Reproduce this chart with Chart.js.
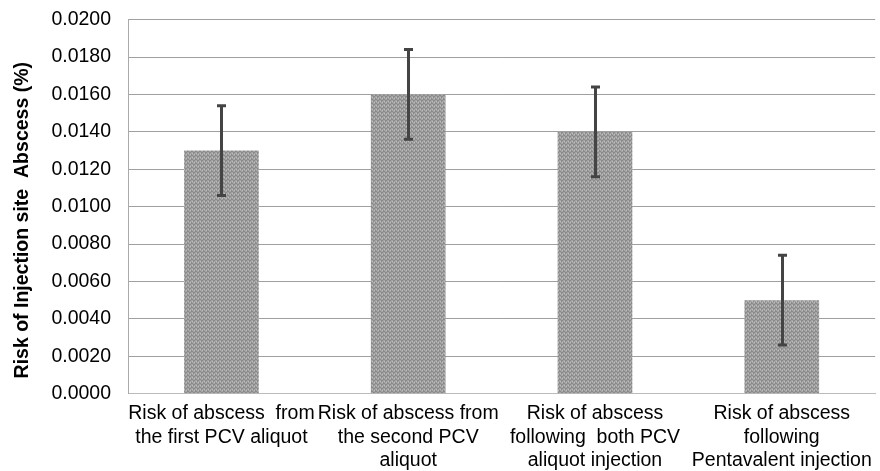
<!DOCTYPE html>
<html>
<head>
<meta charset="utf-8">
<script src="https://cdn.jsdelivr.net/npm/chart.js@4"></script>
<style>
html,body{margin:0;padding:0;background:#fff}
#wrap{width:880px;height:471px;position:relative;overflow:hidden}
#c{position:absolute;left:0;top:-9px}
</style>
</head>
<body>
<div id="wrap"><canvas id="c"></canvas></div>
<script>
'use strict';
// ── data ──
const categories=[
  ['Risk of abscess  from','the first PCV aliquot'],
  ['Risk of abscess from','the second PCV','aliquot'],
  ['Risk of abscess','following  both PCV','aliquot injection'],
  ['Risk of abscess','following','Pentavalent injection']
];
const riskValues=[0.0130,0.0160,0.0140,0.0050];
const errLow=[0.0106,0.0136,0.0116,0.0026];
const errHigh=[0.0154,0.0184,0.0164,0.0074];
const yTicks=[0,0.002,0.004,0.006,0.008,0.010,0.012,0.014,0.016,0.018,0.020];

// speckled grey fill like the original
function dotPattern(){
  const p=document.createElement('canvas');p.width=4;p.height=4;
  const g=p.getContext('2d');
  g.fillStyle='#a4a4a4';g.fillRect(0,0,4,4);
  g.fillStyle='#8a8a8a';
  [[0,0],[2,1],[1,2],[3,3],[3,0],[1,1]].forEach(([x,y])=>g.fillRect(x,y,1,1));
  g.fillStyle='#bcbcbc';
  [[2,3],[0,2]].forEach(([x,y])=>g.fillRect(x,y,1,1));
  return g.createPattern(p,'repeat');
}

const errorBars={
  id:'errorBars',
  afterDatasetsDraw(chart){
    const ctx=chart.ctx,y=chart.scales.y,meta=chart.getDatasetMeta(0);
    ctx.save();ctx.strokeStyle='#444';ctx.lineCap='butt';ctx.lineWidth=3;
    meta.data.forEach((bar,i)=>{
      const x=Math.round(bar.x)+0.5,yt=y.getPixelForValue(errHigh[i]),yb=y.getPixelForValue(errLow[i]);
      ctx.beginPath();ctx.moveTo(x,yt);ctx.lineTo(x,yb);ctx.stroke();
      ctx.beginPath();
      ctx.moveTo(x-4.5,yt);ctx.lineTo(x+4.5,yt);
      ctx.moveTo(x-4.5,yb);ctx.lineTo(x+4.5,yb);ctx.stroke();
    });
    ctx.restore();
  }
};

Chart.defaults.font.family="'Liberation Sans', Arial, sans-serif";
Chart.defaults.color='#000';
const cv=document.getElementById('c');
cv.width=880;cv.height=480;
new Chart(cv,{
  type:'bar',
  data:{labels:categories,datasets:[{data:riskValues,backgroundColor:dotPattern(),borderWidth:0,barPercentage:0.4,categoryPercentage:1}]},
  options:{
    responsive:false,animation:false,devicePixelRatio:1,
    layout:{padding:{top:0,right:2,left:11,bottom:-10}},
    plugins:{legend:{display:false},tooltip:{enabled:false}},
    scales:{
      x:{
        grid:{display:false,drawTicks:false},
        border:{display:true,color:'#bbb',width:1},
        ticks:{font:{size:19.5,lineHeight:1.22},padding:8,maxRotation:0,autoSkip:false,color:'#000'}
      },
      y:{
        min:0,max:0.02,
        afterBuildTicks(s){s.ticks=yTicks.map(v=>({value:v}));},
        grid:{color:'#a0a0a0',lineWidth:1,drawTicks:false,borderDash:[2,1]},
        border:{display:true,color:'#aaa',width:1,dash:[]},
        ticks:{font:{size:19.5},padding:17,callback:v=>v.toFixed(4),color:'#000'},
        title:{display:true,text:'Risk of Injection site  Abscess (%)\u00a0\u00a0\u00a0\u00a0\u00a0',font:{size:19.5,weight:'bold'},padding:{top:0,bottom:0}}
      }
    }
  },
  plugins:[errorBars]
});
</script>
</body>
</html>
